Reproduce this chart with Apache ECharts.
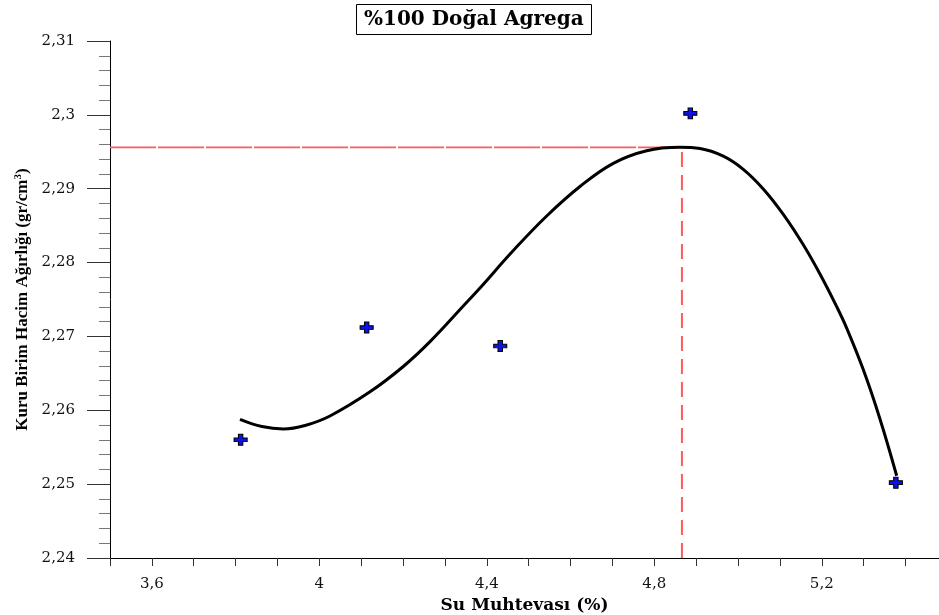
<!DOCTYPE html>
<html>
<head>
<meta charset="utf-8">
<title>%100 Doğal Agrega</title>
<script src="https://cdn.jsdelivr.net/npm/echarts@6/dist/echarts.min.js"></script>
<style>
  html, body { margin: 0; padding: 0; background: #ffffff; }
  #chart { width: 939px; height: 615px; }
</style>
</head>
<body>
<div id="chart"></div>
<script>
// Compaction test: measured points (water content %, dry unit weight)
const waterContent = [3.812, 4.113, 4.432, 4.886, 5.377];
const dryUnitWeight = [2.2560, 2.2712, 2.2687, 2.3002, 2.2502];

// Fitted compaction curve, sampled along its length
const curveX = [3.8105, 3.8630, 3.9139, 3.9657, 4.0254, 4.1210, 4.2005, 4.2643, 4.3438, 4.3837,
                4.4632, 4.5430, 4.6225, 4.7020, 4.7818, 4.8613, 4.9091, 4.9648, 5.0125, 5.0603,
                5.1081, 5.1559, 5.1957, 5.2356, 5.2595, 5.2991, 5.3390, 5.3789];
const curveY = [2.25878, 2.25780, 2.25747, 2.25794, 2.25923, 2.26250, 2.26593, 2.26929, 2.27411, 2.27656,
                2.28163, 2.28631, 2.29030, 2.29344, 2.29515, 2.29561, 2.29544, 2.29440, 2.29262, 2.28996,
                2.28652, 2.28241, 2.27845, 2.27404, 2.27113, 2.26551, 2.25883, 2.25114];

// Curve maximum: optimum water content and maximum dry unit weight
const optimumWater = 4.866;
const maxDryUnitWeight = 2.2956;

// Axis ranges
const xRange = [3.5, 5.48];
const yRange = [2.24, 2.31];
const xLabelValues = [3.6, 4.0, 4.4, 4.8, 5.2];

const titleText = '%100 Doğal Agrega';
const xName = 'Su Muhtevası (%)';
const yName = 'Kuru Birim Hacim Ağırlığı (gr/cm{sup|3})';

const points = waterContent.map((x, i) => [x, dryUnitWeight[i]]);
const curve = curveX.map((x, i) => [x, curveY[i]]);
const hLine = [[xRange[0], maxDryUnitWeight], [optimumWater, maxDryUnitWeight]];
const vLine = [[optimumWater, yRange[0]], [optimumWater, maxDryUnitWeight]];

const commaNum = v => String(+v.toFixed(3)).replace('.', ',');
const labelKeys = xLabelValues.map(v => Math.round(v * 10));

const plusPath = 'path://M4,0H8V4H12V8H8V12H4V8H0V4H4Z';

const chart = echarts.init(document.getElementById('chart'), null, { renderer: 'canvas' });
chart.setOption({
  animation: false,
  backgroundColor: '#ffffff',
  title: {
    text: titleText,
    left: 356,
    top: 4,
    padding: [4, 8, 3, 8],
    borderColor: '#000000',
    borderWidth: 1,
    textStyle: {
      fontFamily: 'DejaVu Serif',
      fontWeight: 'bold',
      fontSize: 20,
      lineHeight: 24,
      color: '#000000'
    }
  },
  grid: { left: 110, right: 0, top: 41, bottom: 57, containLabel: false, outerBoundsMode: 'none' },
  xAxis: {
    type: 'value',
    min: xRange[0],
    max: xRange[1],
    interval: 0.1,
    name: xName,
    nameLocation: 'middle',
    nameGap: 31,
    nameTextStyle: {
      fontFamily: 'DejaVu Serif',
      fontWeight: 'bold',
      fontSize: 17,
      color: '#000000'
    },
    axisLine: { show: true, onZero: false, lineStyle: { color: '#000000', width: 1 } },
    axisTick: { show: true, length: 8, lineStyle: { color: '#333333' } },
    axisLabel: {
      margin: 19,
      fontFamily: 'DejaVu Serif',
      fontSize: 15,
      color: '#111111',
      formatter: v => labelKeys.includes(Math.round(v * 10)) && Math.abs(v * 10 - Math.round(v * 10)) < 1e-6 ? commaNum(v) : ''
    },
    splitLine: { show: false }
  },
  yAxis: {
    type: 'value',
    min: yRange[0],
    max: yRange[1],
    interval: 0.01,
    name: yName,
    nameLocation: 'middle',
    nameGap: 78,
    nameTextStyle: {
      fontFamily: 'Liberation Serif',
      fontWeight: 'bold',
      fontSize: 17,
      color: '#000000',
      rich: {
        sup: {
          fontFamily: 'Liberation Serif',
          fontWeight: 'bold',
          fontSize: 11,
          padding: [0, 0, 8, 0],
          color: '#000000'
        }
      }
    },
    axisLine: { show: true, onZero: false, lineStyle: { color: '#000000', width: 1 } },
    axisTick: { show: true, length: 23, lineStyle: { color: '#333333' } },
    minorTick: { show: true, splitNumber: 5, length: 11, lineStyle: { color: '#777777' } },
    axisLabel: {
      margin: 35,
      fontFamily: 'DejaVu Serif',
      fontSize: 15,
      color: '#111111',
      formatter: v => commaNum(v)
    },
    splitLine: { show: false },
    minorSplitLine: { show: false }
  },
  series: [
    {
      type: 'line',
      data: hLine,
      showSymbol: false,
      silent: true,
      lineStyle: { color: '#ff5a5a', width: 1.6, type: [46, 2] },
      z: 1
    },
    {
      type: 'line',
      data: vLine,
      showSymbol: false,
      silent: true,
      lineStyle: { color: '#ff5a5a', width: 2, type: [15, 8] },
      z: 1
    },
    {
      type: 'line',
      data: curve,
      smooth: 0.4,
      showSymbol: false,
      silent: true,
      lineStyle: { color: '#000000', width: 3 },
      z: 2
    },
    {
      type: 'scatter',
      data: points,
      symbol: plusPath,
      symbolSize: [13, 11],
      itemStyle: { color: '#1010e8', borderColor: '#000000', borderWidth: 1, opacity: 1 },
      z: 3
    }
  ]
});
</script>
</body>
</html>
